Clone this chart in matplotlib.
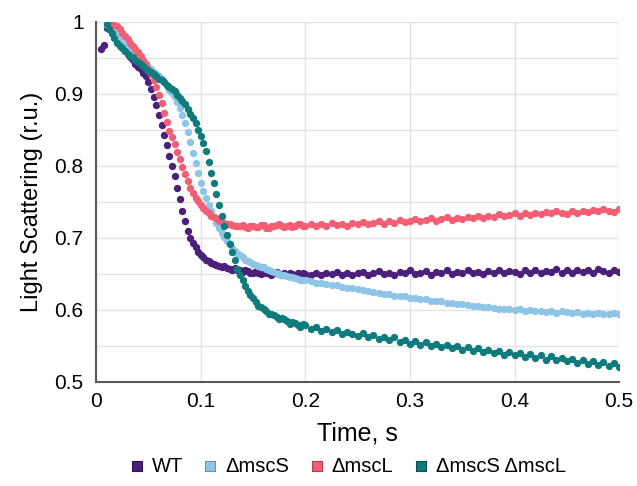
import matplotlib
matplotlib.use("Agg")
import matplotlib.pyplot as plt
import numpy as np

plt.rcParams['font.family'] = ['Liberation Sans', 'DejaVu Sans']

# sampling grid of the traces (s): fine steps during the fast phase, coarser after
time_s = np.round(np.concatenate([np.arange(1, 81) * 0.0025,
                                  0.2 + np.arange(1, 61) * 0.005]), 4)

wt = [np.nan, 0.962, 0.968, 0.992, 0.990, 0.985, 0.980, 0.975, 0.970, 0.965,
      0.960, 0.955, 0.951, 0.947, 0.942, 0.937, 0.934, 0.929, 0.925, 0.916,
      0.907, 0.896, 0.884, 0.871, 0.857, 0.843, 0.829, 0.814, 0.800, 0.786,
      0.770, 0.754, 0.738, 0.724, 0.710, 0.700, 0.693, 0.687, 0.681, 0.677,
      0.673, 0.670, 0.668, 0.665, 0.664, 0.662, 0.661, 0.659, 0.661, 0.658,
      0.657, 0.656, 0.658, 0.655, 0.656, 0.653, 0.655, 0.654, 0.652, 0.651,
      0.654, 0.652, 0.650, 0.653, 0.651, 0.652, 0.649, 0.651, 0.653, 0.650,
      0.648, 0.651, 0.649, 0.652, 0.650, 0.648, 0.651, 0.649, 0.652, 0.650,
      # 0.205 s onwards
      0.649, 0.651, 0.648, 0.652, 0.650, 0.653, 0.649, 0.651, 0.648, 0.652,
      0.653, 0.649, 0.651, 0.654, 0.650, 0.652, 0.648, 0.653, 0.651, 0.655,
      0.650, 0.652, 0.654, 0.649, 0.653, 0.651, 0.655, 0.650, 0.653, 0.652,
      0.656, 0.651, 0.653, 0.650, 0.654, 0.652, 0.656, 0.651, 0.654, 0.653,
      0.650, 0.655, 0.652, 0.656, 0.651, 0.654, 0.653, 0.657, 0.652, 0.655,
      0.651, 0.656, 0.653, 0.655, 0.652, 0.657, 0.654, 0.651, 0.656, 0.653]

msc_s = [np.nan, np.nan, np.nan, 0.996, 0.993, 0.989, 0.985, 0.981, 0.976, 0.971,
         0.967, 0.963, 0.959, 0.955, 0.952, 0.949, 0.945, 0.942, 0.940, 0.938,
         0.934, 0.931, 0.928, 0.925, 0.921, 0.916, 0.911, 0.905, 0.901, 0.896,
         0.889, 0.880, 0.871, 0.860, 0.847, 0.833, 0.818, 0.804, 0.790, 0.776,
         0.765, 0.755, 0.746, 0.737, 0.729, 0.721, 0.714, 0.707, 0.701, 0.696,
         0.691, 0.686, 0.682, 0.679, 0.676, 0.673, 0.670, 0.668, 0.666, 0.664,
         0.663, 0.661, 0.660, 0.659, 0.657, 0.655, 0.654, 0.653, 0.651, 0.650,
         0.649, 0.648, 0.647, 0.646, 0.646, 0.645, 0.643, 0.642, 0.642, 0.641,
         # 0.205 s onwards
         0.640, 0.638, 0.637, 0.636, 0.634, 0.634, 0.632, 0.631, 0.630, 0.629,
         0.628, 0.626, 0.625, 0.624, 0.622, 0.622, 0.620, 0.619, 0.619, 0.617,
         0.617, 0.615, 0.615, 0.613, 0.612, 0.612, 0.610, 0.610, 0.608, 0.608,
         0.607, 0.606, 0.606, 0.604, 0.604, 0.603, 0.602, 0.602, 0.601, 0.600,
         0.601, 0.599, 0.600, 0.598, 0.599, 0.597, 0.598, 0.596, 0.598, 0.597,
         0.596, 0.597, 0.595, 0.596, 0.594, 0.596, 0.595, 0.594, 0.596, 0.594]

msc_l = [np.nan, np.nan, np.nan, 0.999, 0.998, 0.997, 0.996, 0.994, 0.990, 0.985,
         0.981, 0.976, 0.971, 0.966, 0.962, 0.958, 0.953, 0.947, 0.941, 0.935,
         0.927, 0.919, 0.909, 0.899, 0.887, 0.874, 0.861, 0.849, 0.840, 0.830,
         0.820, 0.810, 0.799, 0.789, 0.779, 0.770, 0.763, 0.756, 0.751, 0.746,
         0.742, 0.738, 0.734, 0.731, 0.729, 0.727, 0.724, 0.722, 0.721, 0.720,
         0.719, 0.718, 0.716, 0.717, 0.716, 0.718, 0.715, 0.714, 0.716, 0.717,
         0.715, 0.715, 0.718, 0.718, 0.714, 0.714, 0.717, 0.716, 0.718, 0.719,
         0.716, 0.715, 0.717, 0.718, 0.715, 0.716, 0.719, 0.719, 0.716, 0.717,
         # 0.205 s onwards
         0.720, 0.716, 0.719, 0.717, 0.721, 0.718, 0.720, 0.717, 0.721, 0.719,
         0.722, 0.719, 0.721, 0.724, 0.720, 0.723, 0.721, 0.725, 0.722, 0.724,
         0.726, 0.723, 0.725, 0.727, 0.724, 0.726, 0.729, 0.725, 0.728, 0.726,
         0.729, 0.727, 0.730, 0.728, 0.731, 0.729, 0.733, 0.730, 0.732, 0.734,
         0.731, 0.734, 0.732, 0.735, 0.733, 0.736, 0.734, 0.737, 0.735, 0.733,
         0.737, 0.735, 0.738, 0.736, 0.739, 0.737, 0.740, 0.738, 0.736, 0.740]

msc_sl = [np.nan, np.nan, np.nan, 0.997, 0.990, 0.984, 0.977, 0.971, 0.967, 0.964,
          0.960, 0.956, 0.953, 0.951, 0.947, 0.944, 0.941, 0.939, 0.935, 0.932,
          0.930, 0.928, 0.925, 0.921, 0.919, 0.917, 0.913, 0.909, 0.907, 0.904,
          0.899, 0.894, 0.890, 0.886, 0.879, 0.872, 0.866, 0.859, 0.850, 0.841,
          0.832, 0.821, 0.806, 0.790, 0.776, 0.761, 0.746, 0.731, 0.717, 0.704,
          0.692, 0.681, 0.669, 0.657, 0.649, 0.641, 0.633, 0.626, 0.621, 0.616,
          0.611, 0.606, 0.604, 0.602, 0.598, 0.594, 0.594, 0.593, 0.590, 0.587,
          0.589, 0.588, 0.584, 0.581, 0.583, 0.582, 0.579, 0.577, 0.580, 0.579,
          # 0.205 s onwards
          0.573, 0.576, 0.571, 0.574, 0.569, 0.572, 0.566, 0.570, 0.567, 0.564,
          0.568, 0.562, 0.565, 0.560, 0.563, 0.558, 0.562, 0.556, 0.559, 0.553,
          0.557, 0.552, 0.555, 0.550, 0.553, 0.548, 0.551, 0.547, 0.550, 0.545,
          0.549, 0.543, 0.547, 0.541, 0.545, 0.540, 0.543, 0.538, 0.542, 0.537,
          0.540, 0.535, 0.539, 0.533, 0.537, 0.531, 0.536, 0.530, 0.534, 0.529,
          0.532, 0.527, 0.531, 0.525, 0.529, 0.524, 0.528, 0.522, 0.526, 0.521]

labels = ['WT', 'ΔmscS', 'ΔmscL', 'ΔmscS ΔmscL']
colors = ['#4b1f7a', '#8ec5e6', '#f25e74', '#0f7b7c']
edges = ['#2e1050', '#6b8fa6', '#b04050', '#0a5050']
series = [wt, msc_s, msc_l, msc_sl]

fig = plt.figure(figsize=(6.37, 4.86), dpi=100)
ax = fig.add_axes([0.151, 0.214, 0.821, 0.741])

for vals, col, lab, ec in zip(series, colors, labels, edges):
    ax.scatter(time_s, vals, s=28, color=col, linewidths=0, zorder=3)
    # legend proxy
    ax.scatter([], [], marker='s', s=60, color=col, edgecolors=ec,
               linewidths=0.8, label=lab)

ax.set_xlim(0, 0.5)
ax.set_ylim(0.5, 1.0)
ax.set_xticks([0, 0.1, 0.2, 0.3, 0.4, 0.5])
ax.set_xticklabels(['0', '0.1', '0.2', '0.3', '0.4', '0.5'])
ax.set_yticks([0.5, 0.6, 0.7, 0.8, 0.9, 1.0])
ax.set_yticklabels(['0.5', '0.6', '0.7', '0.8', '0.9', '1'])
ax.set_yticks(np.arange(0.55, 1.0, 0.1), minor=True)
ax.tick_params(which='both', length=0, labelsize=15)
ax.tick_params(axis='x', pad=7)
ax.tick_params(axis='y', pad=9)
ax.grid(True, which='both', axis='y', color='#e3e3e3', lw=1)
ax.grid(True, which='major', axis='x', color='#e3e3e3', lw=1)
ax.set_axisbelow(True)

for s in ['top', 'right']:
    ax.spines[s].set_visible(False)
for s in ['left', 'bottom']:
    ax.spines[s].set_color('#595959')
    ax.spines[s].set_linewidth(1.5)

ax.set_xlabel('Time, s', fontsize=18, labelpad=8)
ax.set_ylabel('Light Scattering (r.u.)', fontsize=17, labelpad=8)

fig.legend(loc='lower center', bbox_to_anchor=(0.545, -0.012), ncol=4,
           frameon=False, fontsize=14.5, handlelength=0.8, handletextpad=0.35,
           columnspacing=0.95, borderaxespad=0.4)

fig.savefig('out.png', dpi=100)
